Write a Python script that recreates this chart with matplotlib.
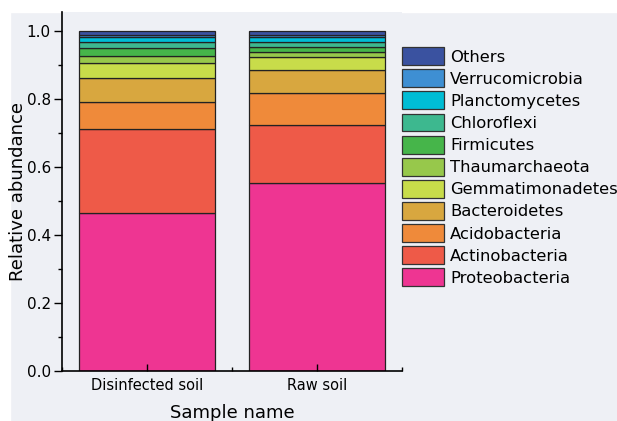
import numpy as np
import matplotlib.pyplot as plt
from matplotlib.patches import Rectangle

samples = ['Disinfected soil', 'Raw soil']
phyla = ['Proteobacteria', 'Actinobacteria', 'Acidobacteria', 'Bacteroidetes',
         'Gemmatimonadetes', 'Thaumarchaeota', 'Firmicutes', 'Chloroflexi',
         'Planctomycetes', 'Verrucomicrobia', 'Others']
disinfected = [0.465, 0.245, 0.080, 0.072, 0.044, 0.021, 0.022, 0.018, 0.014, 0.005, 0.014]
raw = [0.552, 0.170, 0.095, 0.067, 0.040, 0.014, 0.015, 0.014, 0.014, 0.005, 0.014]
colors = ['#ee3592', '#ee5a48', '#ef8a3a', '#d8a73f', '#c8dc4a', '#97c84b',
          '#46b54a', '#3db88f', '#00bdd5', '#3e8fd3', '#3a52a0']

values = np.array([disinfected, raw]).T
x = np.arange(len(samples))

fig = plt.figure(figsize=(6.17, 4.21), dpi=100, facecolor='#eef0f5')
# white margins at the top and left of the original screenshot
fig.add_artist(Rectangle((0, 0.972), 1, 0.03, transform=fig.transFigure, color='white', zorder=-1))
fig.add_artist(Rectangle((0, 0), 0.016, 1, transform=fig.transFigure, color='white', zorder=-1))

ax = fig.add_axes([0.1005, 0.1188, 0.5515, 0.8527])
ax.set_facecolor('#eef0f5')

bottom = np.zeros(len(samples))
handles = []
for name, vals, c in zip(phyla, values, colors):
    h = ax.bar(x, vals, width=0.8, bottom=bottom, color=c, edgecolor='#222222',
               linewidth=0.9, label=name)
    handles.append(h)
    bottom += vals

ax.set_xlim(-0.5, 1.5)
ax.set_ylim(0, 1.055)
ax.set_xticks(x)
ax.set_xticklabels(samples, fontsize=10.5)
ax.set_xticks([-0.5, 0.5, 1.5], minor=True)
ax.set_yticks(np.arange(0, 1.01, 0.2))
ax.set_yticklabels([f'{v:.1f}' for v in np.arange(0, 1.01, 0.2)], fontsize=11)
ax.set_yticks(np.arange(0.1, 1.0, 0.2), minor=True)
ax.tick_params(axis='x', which='major', direction='in', length=5, width=1, pad=5)
ax.tick_params(axis='x', which='minor', direction='in', length=3, width=1)
ax.tick_params(axis='y', which='major', direction='out', length=6, width=1, pad=2)
ax.tick_params(axis='y', which='minor', direction='out', length=3, width=1)
for s in ['top', 'right']:
    ax.spines[s].set_visible(False)
for s in ['left', 'bottom']:
    ax.spines[s].set_linewidth(1.2)

ax.set_ylabel('Relative abundance', fontsize=13)
ax.yaxis.set_label_coords(-0.104, 0.5)
ax.set_xlabel('Sample name', fontsize=13, labelpad=8)

leg = ax.legend(handles[::-1], phyla[::-1], loc='upper left',
                bbox_to_anchor=(0.651, 0.888), bbox_transform=fig.transFigure,
                frameon=False, fontsize=11.8, handlelength=2.6, handleheight=1.3,
                labelspacing=0.26, handletextpad=0.35, borderpad=0, borderaxespad=0)
for p in leg.get_patches():
    p.set_edgecolor('#333333')

fig.savefig('out.png', dpi=100, facecolor=fig.get_facecolor())
